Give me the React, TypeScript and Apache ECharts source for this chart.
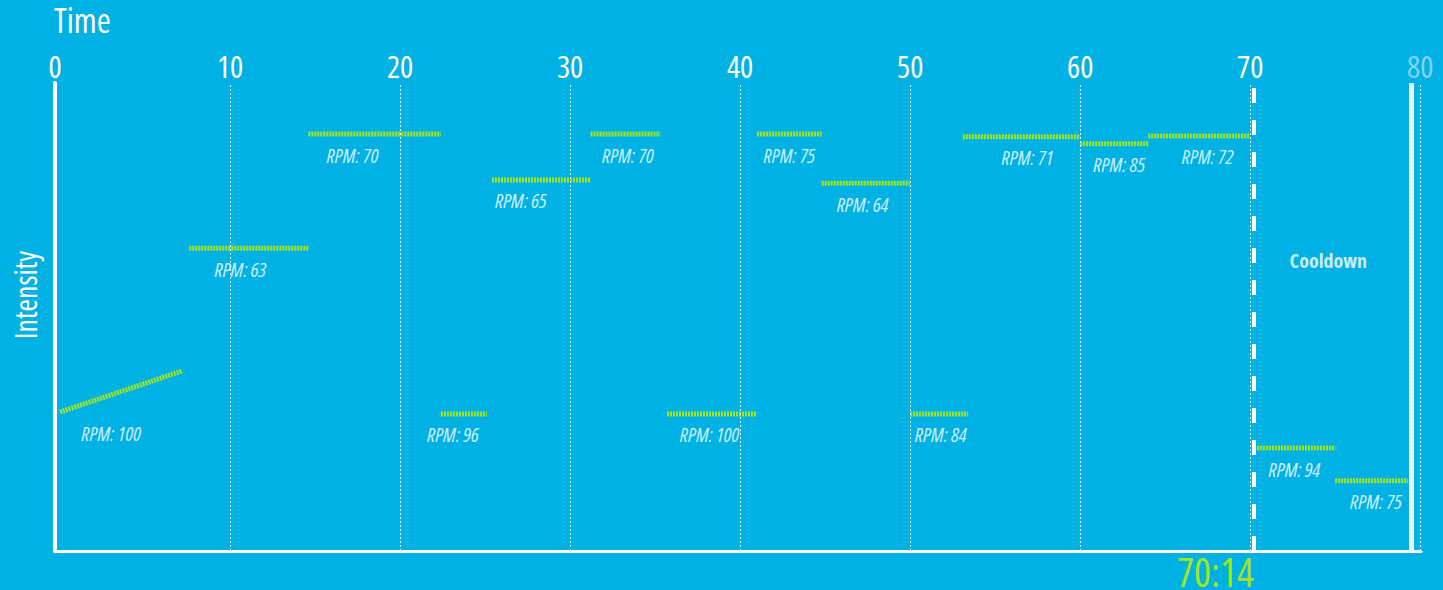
import React, { useEffect, useRef } from "react";
import * as echarts from "echarts";

// ---- data ----
const timeTicks = [0, 10, 20, 30, 40, 50, 60, 70, 80];
const segStart = [0, 7.6, 14.6, 22.4, 25.4, 31.2, 35.7, 41.0, 44.8, 50.0, 53.1, 60.0, 64.0, 70.4, 75.0];
const segEnd = [7.2, 14.6, 22.4, 25.1, 31.2, 35.3, 41.0, 44.8, 50.0, 53.4, 60.0, 64.0, 70.0, 75.0, 79.3];
const intensityStart = [29.7, 64.7, 89.1, 29.3, 79.3, 89.1, 29.3, 89.1, 78.6, 29.3, 88.5, 87.0, 88.7, 22.0, 15.0];
const intensityEnd = [38.5, 64.7, 89.1, 29.3, 79.3, 89.1, 29.3, 89.1, 78.6, 29.3, 88.5, 87.0, 88.7, 22.0, 15.0];
const rpmValues = [100, 63, 70, 96, 65, 70, 100, 75, 64, 84, 71, 85, 72, 94, 75];
const labelTime = [3.0, 10.6, 17.2, 23.1, 27.1, 33.4, 38.2, 42.9, 47.2, 51.8, 56.9, 62.3, 67.5, 72.6, 77.4];
const nowTime = 70.23;
const nowLabel = "70:14";
const endTime = 79.45;
const cooldownPoint = [74.6, 62];
const cooldownText = "Cooldown";

// condensed face (Open Sans width axis)
const FONT = "'Open Sans';font-stretch:75%";
const BG = "#00b2e3";
const GREEN = "#a2e61e";

export default function App() {
  const ref = useRef<HTMLDivElement>(null);
  useEffect(() => {
    const chart = echarts.init(ref.current!, undefined, { renderer: "svg" });

    const segSeries: any[] = segStart.map((s, i) => ({
      type: "line",
      xAxisIndex: 0,
      yAxisIndex: 0,
      data: [
        [s, intensityStart[i]],
        [segEnd[i], intensityEnd[i]],
      ],
      symbol: "none",
      showSymbol: false,
      silent: true,
      z: 4,
      lineStyle: { color: GREEN, width: 5, type: [2, 1] },
    }));

    const gridLines = timeTicks
      .filter((t) => t > 0)
      .map((t) => ({
        xAxis: t,
        lineStyle: { color: "rgba(255,255,255,0.9)", width: 1, type: [2, 2] },
      }));

    const option: any = {
      animation: false,
      backgroundColor: BG,
      grid: { left: 55, right: 22, top: 83, bottom: 39 },
      xAxis: [
        {
          type: "value",
          position: "top",
          min: -0.3,
          max: 80.05,
          axisLine: { show: false },
          axisTick: { show: false },
          splitLine: { show: false },
          axisLabel: {
            customValues: timeTicks,
            color: "#fff",
            fontSize: 31,
            fontFamily: FONT,
            verticalAlign: "middle",
            margin: 17,
            formatter: (v: number) => (v === 80 ? "{f|80}" : v === 0 ? "{z|0}" : String(v)),
            rich: {
              f: { color: "#80d4f1", fontSize: 31, fontFamily: FONT },
              z: { color: "#fff", fontSize: 31, fontFamily: FONT, padding: [0, 10, 0, 0] },
            },
          },
        },
        {
          type: "value",
          position: "bottom",
          min: -0.3,
          max: 80.05,
          axisLine: { show: true, lineStyle: { color: "#fff", width: 3 } },
          axisTick: { show: false },
          axisLabel: { show: false },
          splitLine: { show: false },
        },
      ],
      yAxis: {
        type: "value",
        min: 0,
        max: 100,
        axisLine: { show: true, onZero: false, lineStyle: { color: "#fff", width: 4 } },
        axisTick: { show: false },
        axisLabel: { show: false },
        splitLine: { show: false },
      },
      graphic: [
        {
          type: "text",
          x: 54,
          y: 20,
          style: {
            text: "Time",
            fill: "#fff",
            fontSize: 34,
            fontFamily: FONT,
            align: "left",
            verticalAlign: "middle",
          },
        },
        {
          type: "text",
          x: 25,
          y: 295,
          rotation: Math.PI / 2,
          style: {
            text: "Intensity",
            fill: "#fff",
            fontSize: 30,
            fontFamily: FONT,
            align: "center",
            verticalAlign: "middle",
          },
        },
      ],
      series: [
        ...segSeries,
        {
          type: "scatter",
          xAxisIndex: 0,
          symbolSize: 0,
          silent: true,
          z: 5,
          data: labelTime.map((t, i) => [t, Math.min(intensityStart[i], intensityEnd[i]), rpmValues[i]]),
          label: {
            show: true,
            position: "inside",
            offset: [0, 21],
            formatter: (p: any) => "RPM: " + p.value[2],
            color: "#ffffff",
            fontSize: 20,
            fontStyle: "italic",
            fontFamily: FONT,
          },
          markLine: {
            silent: true,
            symbol: "none",
            label: { show: false },
            data: [
              ...gridLines,
              {
                xAxis: nowTime,
                lineStyle: { color: "#fff", width: 4, type: [15, 17] },
                label: {
                  show: true,
                  position: "start",
                  formatter: nowLabel,
                  color: GREEN,
                  fontSize: 40,
                  fontWeight: "normal",
                  fontFamily: FONT,
                  align: "right",
                  verticalAlign: "middle",
                  distance: 20,
                },
              },
              {
                xAxis: endTime,
                lineStyle: { color: "#eaf8fd", width: 5, type: "solid" },
              },
            ],
          },
        },
        {
          type: "scatter",
          xAxisIndex: 0,
          symbolSize: 0,
          silent: true,
          data: [[cooldownPoint[0], cooldownPoint[1]]],
          label: {
            show: true,
            position: "inside",
            formatter: cooldownText,
            color: "#ffffff",
            fontSize: 20,
            fontWeight: "bold",
            fontFamily: FONT,
          },
        },
      ],
    };
    chart.setOption(option);
    return () => chart.dispose();
  }, []);
  return (
    <div
      ref={ref}
      style={{ position: "fixed", left: 0, top: 0, width: 1443, height: 590, background: BG }}
    />
  );
}
